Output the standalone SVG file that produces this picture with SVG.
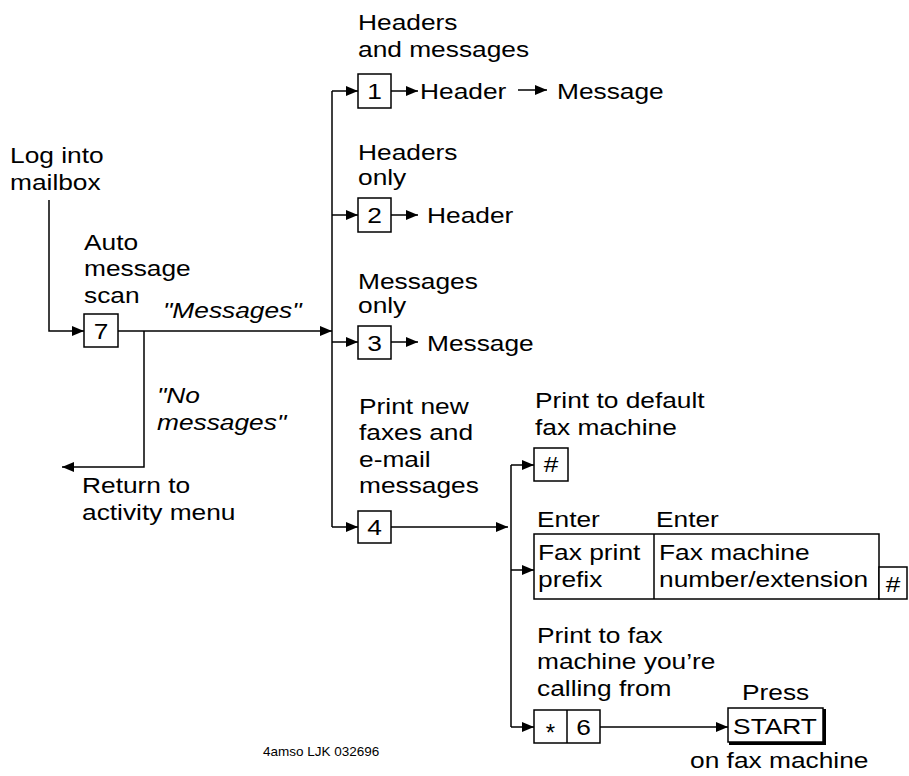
<svg xmlns="http://www.w3.org/2000/svg" width="909" height="776" viewBox="0 0 909 776">
  <style>
    .t { font-family: "Liberation Sans", Arial, Helvetica, sans-serif; font-size: 22.5px; fill: #000; }
    .i { font-style: italic; }
    .c { text-anchor: middle; }
    .small { font-family: "Liberation Sans", Arial, sans-serif; font-size: 13.5px; fill: #000; }
    .box { fill: #fff; stroke: #000; stroke-width: 1.5; }
    .ln { fill: none; stroke: #000; stroke-width: 1.5; }
    .arr { marker-end: url(#ah); }
  </style>
  <defs>
    <marker id="ah" viewBox="0 0 12 10" refX="12" refY="5" markerWidth="12" markerHeight="10" markerUnits="userSpaceOnUse" orient="auto">
      <path d="M0,0 L12,5 L0,10 z" fill="#000"/>
    </marker>
  </defs>
  <rect width="909" height="776" fill="#fff"/>

  <!-- connectors -->
  <g id="connectors">
    <path class="ln arr" d="M49,200 V331 H84"/>
    <path class="ln arr" d="M118,331 H332"/>
    <path class="ln arr" d="M144,331 V467 H62"/>
    <path class="ln" d="M332,91 V527"/>
    <path class="ln arr" d="M332,91 H358"/>
    <path class="ln arr" d="M332,215 H358"/>
    <path class="ln arr" d="M332,342 H358"/>
    <path class="ln arr" d="M332,527 H358"/>
    <path class="ln arr" d="M391,91 H418"/>
    <path class="ln arr" d="M518,90 H547"/>
    <path class="ln arr" d="M391,215 H418"/>
    <path class="ln arr" d="M391,342 H418"/>
    <path class="ln arr" d="M391,527 H508"/>
    <path class="ln" d="M511,465 V727"/>
    <path class="ln arr" d="M511,465 H534"/>
    <path class="ln arr" d="M511,570 H534"/>
    <path class="ln arr" d="M511,727 H534"/>
    <path class="ln arr" d="M600,727 H728"/>
  </g>

  <!-- start: log into mailbox -->
  <g id="login">
    <text class="t" transform="translate(10 163) scale(1.17 1)"><tspan x="0">Log into</tspan><tspan x="0" dy="27">mailbox</tspan></text>
  </g>

  <!-- key 7: auto message scan -->
  <g id="key7">
    <text class="t" transform="translate(84 250) scale(1.17 1)"><tspan x="0">Auto</tspan><tspan x="0" dy="26.5">message</tspan><tspan x="0" dy="26.5">scan</tspan></text>
    <rect class="box" x="84" y="314" width="34" height="33"/>
    <text class="t c" transform="translate(101 339) scale(1.17 1)">7</text>
  </g>

  <g id="lbl-messages">
    <text class="t i" transform="translate(163 318) scale(1.17 1)">"Messages"</text>
  </g>
  <g id="lbl-nomessages">
    <text class="t i" transform="translate(157 403) scale(1.17 1)"><tspan x="0">"No</tspan><tspan x="0" dy="27">messages"</tspan></text>
  </g>
  <g id="return">
    <text class="t" transform="translate(82 493) scale(1.17 1)"><tspan x="0">Return to</tspan><tspan x="0" dy="27">activity menu</tspan></text>
  </g>

  <!-- key 1 -->
  <g id="key1">
    <text class="t" transform="translate(358 30) scale(1.17 1)"><tspan x="0">Headers</tspan><tspan x="0" dy="27">and messages</tspan></text>
    <rect class="box" x="358" y="74" width="33" height="34"/>
    <text class="t c" transform="translate(374.5 99) scale(1.17 1)">1</text>
    <text class="t" transform="translate(420 99) scale(1.17 1)">Header</text>
    <text class="t" transform="translate(557 99) scale(1.17 1)">Message</text>
  </g>

  <!-- key 2 -->
  <g id="key2">
    <text class="t" transform="translate(358 160) scale(1.17 1)"><tspan x="0">Headers</tspan><tspan x="0" dy="25">only</tspan></text>
    <rect class="box" x="358" y="198" width="33" height="34"/>
    <text class="t c" transform="translate(374.5 223) scale(1.17 1)">2</text>
    <text class="t" transform="translate(427 223) scale(1.17 1)">Header</text>
  </g>

  <!-- key 3 -->
  <g id="key3">
    <text class="t" transform="translate(358 289) scale(1.17 1)"><tspan x="0">Messages</tspan><tspan x="0" dy="24.5">only</tspan></text>
    <rect class="box" x="358" y="326" width="33" height="33"/>
    <text class="t c" transform="translate(374.5 351) scale(1.17 1)">3</text>
    <text class="t" transform="translate(427 351) scale(1.17 1)">Message</text>
  </g>

  <!-- key 4 -->
  <g id="key4">
    <text class="t" transform="translate(359 414) scale(1.17 1)"><tspan x="0">Print new</tspan><tspan x="0" dy="26.5">faxes and</tspan><tspan x="0" dy="26.5">e-mail</tspan><tspan x="0" dy="26.5">messages</tspan></text>
    <rect class="box" x="358" y="511" width="33" height="32"/>
    <text class="t c" transform="translate(374.5 535) scale(1.17 1)">4</text>
  </g>

  <!-- default fax machine -->
  <g id="default-fax">
    <text class="t" transform="translate(535 408) scale(1.17 1)"><tspan x="0">Print to default</tspan><tspan x="0" dy="27">fax machine</tspan></text>
    <rect class="box" x="534" y="448" width="34" height="33"/>
    <text class="t c" transform="translate(551 472) scale(1.17 1)">#</text>
  </g>

  <!-- fax print prefix and number -->
  <g id="fax-number">
    <text class="t" transform="translate(537 527) scale(1.17 1)">Enter</text>
    <text class="t" transform="translate(656 527) scale(1.17 1)">Enter</text>
    <rect class="box" x="534" y="534" width="345" height="65"/>
    <path class="ln" d="M654,534 V599"/>
    <text class="t" transform="translate(538 560) scale(1.17 1)"><tspan x="0">Fax print</tspan><tspan x="0" dy="27">prefix</tspan></text>
    <text class="t" transform="translate(659 560) scale(1.17 1)"><tspan x="0">Fax machine</tspan><tspan x="0" dy="27">number/extension</tspan></text>
    <rect class="box" x="879" y="567" width="28" height="32"/>
    <text class="t c" transform="translate(893 592) scale(1.17 1)">#</text>
  </g>

  <!-- calling fax machine -->
  <g id="calling-fax">
    <text class="t" transform="translate(537 643) scale(1.17 1)"><tspan x="0">Print to fax</tspan><tspan x="0" dy="26.5">machine you’re</tspan><tspan x="0" dy="26.5">calling from</tspan></text>
    <rect class="box" x="534" y="710" width="66" height="33"/>
    <path class="ln" d="M567,710 V743"/>
    <text class="t c" x="550.5" y="741" style="font-size:24px">*</text>
    <text class="t c" transform="translate(583.5 735) scale(1.17 1)">6</text>
  </g>

  <!-- start key on fax machine -->
  <g id="start">
    <text class="t" transform="translate(742 700) scale(1.17 1)">Press</text>
    <rect class="box" x="728" y="708" width="95" height="34"/>
    <path fill="none" stroke="#000" stroke-width="3" d="M824.5,709 V743.5 H729"/>
    <text class="t c" transform="translate(775 734) scale(1.17 1)">START</text>
    <text class="t" transform="translate(690 768) scale(1.17 1)">on fax machine</text>
  </g>

  <text class="small" x="263" y="756">4amso LJK 032696</text>
</svg>
